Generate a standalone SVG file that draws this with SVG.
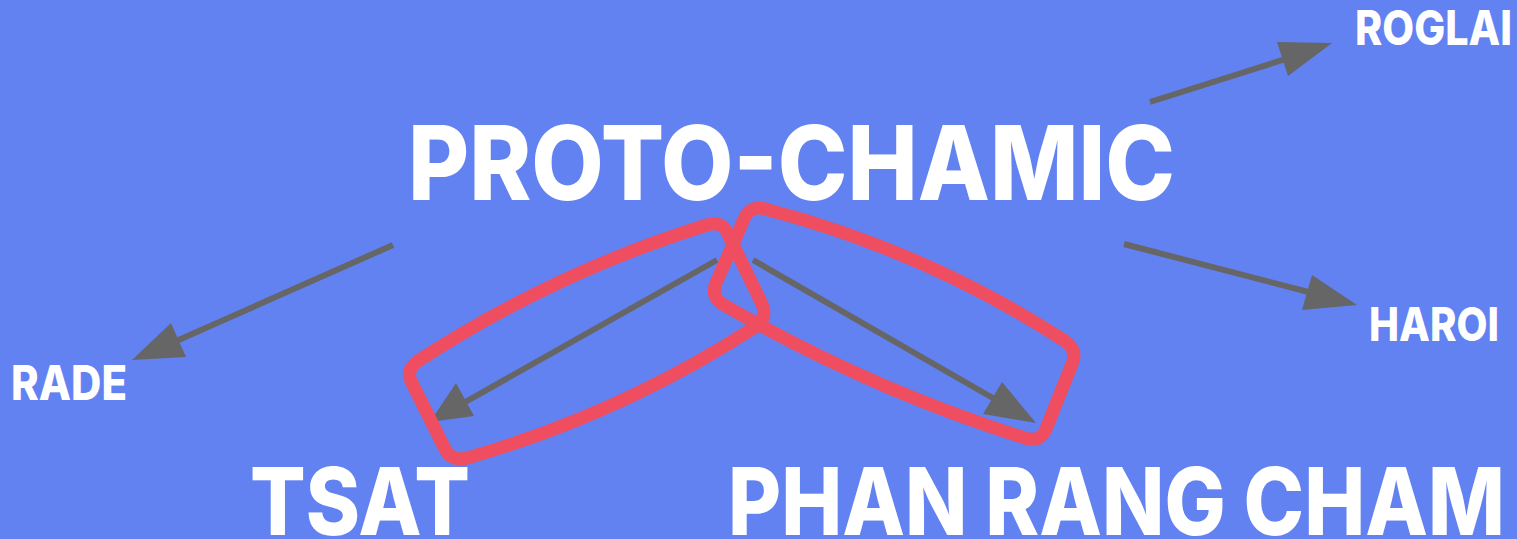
<svg xmlns="http://www.w3.org/2000/svg" width="1517" height="539" viewBox="0 0 1517 539">
<style>
.t{font-family:Inter,"Liberation Sans",sans-serif;font-weight:800;fill:#ffffff}
.ln{stroke:#666666;stroke-width:6;fill:none}
.hd{fill:#666666}
.ring{fill:none;stroke:#EF4E60;stroke-width:13;stroke-linejoin:round}
</style>
<rect x="0" y="0" width="1517" height="539" fill="#6282F2"/>
<g id="connectors">
<line class="ln" x1="393" y1="245" x2="165" y2="346"/>
<polygon class="hd" points="132,360 171,323 186,357"/>
<line class="ln" x1="717" y1="260" x2="460" y2="405"/>
<polygon class="hd" points="430,422 456,383 474,416"/>
<line class="ln" x1="753" y1="260" x2="1005" y2="405"/>
<polygon class="hd" points="1036,423 1002,382 983,414"/>
<line class="ln" x1="1150" y1="102" x2="1295" y2="56"/>
<polygon class="hd" points="1332,43 1277,42 1288,76"/>
<line class="ln" x1="1124" y1="244" x2="1320" y2="295"/>
<polygon class="hd" points="1357,305 1312,275 1302,310"/>
</g>
<g id="ring-tsat">
<path class="ring" d="M412,383 L445,449 Q452,462 467,458 Q621,414 755,327 Q768,318 762,304 L728,234 Q722,220 707,225 Q553,273 418,361 Q405,370 412,383 Z"/>
</g>
<g id="ring-phan">
<path class="ring" d="M765,209 Q926,251 1065,341 Q1078,350 1072,364 L1046,429 Q1040,443 1025,438 Q867,388 724,305 Q710,297 716,283 L744,219 Q750,205 765,209 Z"/>
</g>
<g id="proto"><text class="t" x="408" y="200" font-size="103" textLength="767" lengthAdjust="spacingAndGlyphs">PROTO-CHAMIC</text></g>
<g id="tsat"><text class="t" x="250" y="535" font-size="94" textLength="220" lengthAdjust="spacingAndGlyphs">TSAT</text></g>
<g id="phan"><text class="t" x="728" y="535" font-size="94" textLength="777" lengthAdjust="spacingAndGlyphs">PHAN RANG CHAM</text></g>
<g id="roglai"><text class="t" x="1355" y="45" font-size="48" textLength="157" lengthAdjust="spacingAndGlyphs">ROGLAI</text></g>
<g id="haroi"><text class="t" x="1369" y="341" font-size="47" textLength="130" lengthAdjust="spacingAndGlyphs">HAROI</text></g>
<g id="rade"><text class="t" x="11" y="400" font-size="48" textLength="116" lengthAdjust="spacingAndGlyphs">RADE</text></g>
</svg>
